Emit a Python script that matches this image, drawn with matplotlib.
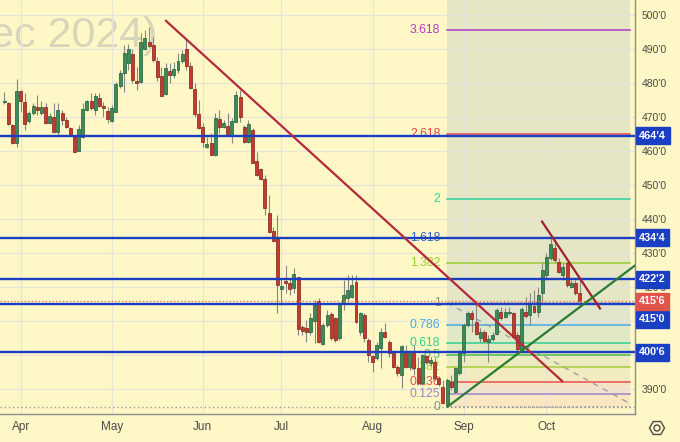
import matplotlib
matplotlib.use("Agg")
import matplotlib.pyplot as plt
import matplotlib.patches as mpatches
import matplotlib.transforms as mtransforms
import numpy as np
import pandas as pd

plt.rcParams['font.family'] = ['Liberation Sans', 'DejaVu Sans']

# daily bars, corn Dec 2024, 25 Mar - 11 Oct 2024 (exchange holidays removed)
HOLIDAYS = ["2024-03-29", "2024-05-27", "2024-06-19", "2024-07-04", "2024-09-02"]
dates = pd.bdate_range("2024-03-25", "2024-10-11")
dates = dates[~dates.isin(pd.to_datetime(HOLIDAYS))]

opens = [474.4, 474.2, 467.6, 462.3,
         477.6, 474.4, 468.9, 471.2, 473.0, 471.2, 473.0, 468.2, 470.1, 465.7,
         471.2, 469.1, 466.8, 464.1, 460.1, 464.1, 472.1, 474.7, 472.1, 475.6,
         473.2, 471.9, 468.8, 471.6, 479.2, 482.9, 485.8, 488.5, 480.6, 480.2,
         489.9, 492.1, 491.2, 486.6, 482.1, 476.8, 483.6, 482.4, 483.8, 486.6,
         490.1, 485.1, 478.1, 470.8, 467.1, 461.3, 462.3, 458.8, 469.4, 467.0,
         467.4, 464.7, 468.6, 475.8, 467.0, 462.7, 466.2, 457.1, 454.6, 451.7,
         441.7, 436.6, 434.0, 419.3, 421.8, 421.1, 419.6, 422.9, 408.3, 408.0,
         406.9, 410.1, 416.0, 403.2, 408.8, 412.1, 410.8, 404.9, 415.2, 416.7,
         417.2, 421.6, 406.9, 411.8, 404.4, 399.7, 399.0, 402.0, 406.9, 403.9,
         400.7, 396.6, 394.1, 400.7, 396.6, 400.7, 396.1, 391.7, 399.7, 397.6,
         398.0, 393.1, 390.7, 385.3, 392.1, 389.2, 394.6, 400.7, 408.8, 412.4,
         409.8, 404.9, 406.9, 403.8, 404.6, 406.2, 412.7, 411.3, 412.3, 412.3,
         405.9, 401.5, 412.7, 411.8, 414.4, 412.7, 418.1, 423.5, 428.4, 431.4,
         427.4, 423.5, 427.0, 420.1, 421.1, 418.1]
highs = [477.4, 474.4, 467.9, 481.2,
         478.0, 477.1, 471.8, 474.1, 476.5, 474.7, 474.1, 471.2, 474.1, 474.1,
         472.1, 470.0, 467.1, 464.4, 467.6, 474.1, 475.0, 477.1, 477.1, 477.1,
         474.4, 472.9, 473.5, 480.3, 483.8, 491.2, 491.5, 489.9, 484.8, 494.6,
         495.6, 496.6, 493.6, 487.7, 484.8, 485.8, 485.8, 486.3, 488.7, 489.7,
         492.9, 486.3, 479.9, 475.0, 468.1, 464.2, 465.2, 471.1, 472.1, 469.1,
         471.1, 469.7, 477.5, 477.9, 467.6, 469.1, 466.7, 459.8, 454.9, 452.9,
         447.1, 437.7, 441.2, 422.6, 426.5, 422.6, 425.5, 423.0, 408.8, 410.3,
         412.3, 416.2, 416.7, 409.3, 413.2, 412.7, 411.3, 415.7, 422.1, 423.5,
         423.5, 423.5, 412.7, 412.3, 404.9, 400.0, 403.9, 407.9, 409.3, 404.4,
         401.5, 397.1, 403.0, 402.9, 401.5, 402.9, 399.5, 400.3, 400.0, 399.4,
         399.1, 393.8, 392.6, 393.2, 394.1, 396.6, 401.5, 409.4, 412.9, 413.2,
         415.7, 407.9, 407.4, 405.9, 406.8, 413.7, 414.2, 413.8, 414.2, 412.6,
         406.9, 414.0, 417.1, 418.1, 419.1, 420.1, 427.4, 429.9, 434.8, 432.9,
         428.5, 427.1, 427.4, 422.1, 422.1, 422.4]
lows = [473.8, 467.6, 462.0, 461.2,
        471.5, 466.2, 468.2, 470.6, 470.6, 470.6, 467.9, 467.9, 465.3, 464.7,
        467.6, 466.8, 464.4, 459.7, 460.0, 463.8, 471.8, 472.1, 470.6, 472.9,
        470.0, 468.2, 468.5, 471.5, 478.5, 477.4, 483.8, 479.9, 477.9, 479.9,
        489.7, 490.7, 486.3, 480.7, 476.2, 476.5, 479.9, 481.4, 482.9, 485.8,
        483.8, 478.1, 470.1, 466.4, 461.3, 460.9, 458.8, 458.5, 465.2, 466.8,
        464.7, 462.4, 468.5, 468.6, 462.3, 462.4, 456.4, 452.6, 451.5, 441.2,
        435.8, 433.3, 412.3, 414.7, 418.1, 417.6, 418.1, 405.9, 405.9, 403.9,
        405.9, 403.4, 403.4, 402.9, 408.3, 404.4, 403.9, 404.5, 413.2, 415.2,
        416.7, 409.3, 405.9, 403.9, 398.0, 395.1, 398.5, 396.1, 404.9, 399.5,
        396.1, 393.8, 390.3, 396.1, 395.6, 394.1, 391.2, 391.2, 397.4, 396.8,
        392.6, 390.9, 385.6, 384.7, 389.7, 388.7, 394.1, 398.0, 408.2, 406.9,
        405.9, 403.9, 403.8, 398.0, 404.1, 405.9, 410.3, 410.9, 411.8, 405.0,
        401.2, 401.0, 410.9, 408.8, 412.4, 411.1, 415.7, 422.1, 427.9, 427.4,
        424.1, 422.1, 420.1, 419.7, 417.6, 415.3]
closes = [474.7, 467.9, 462.3, 477.7,
          474.7, 467.9, 471.3, 473.2, 472.1, 473.0, 468.3, 470.4, 465.7, 472.1,
          469.1, 467.1, 464.7, 459.8, 466.5, 472.3, 474.7, 472.6, 476.3, 473.3,
          472.6, 469.4, 472.7, 479.7, 482.9, 488.7, 489.9, 480.9, 479.9, 492.1,
          493.1, 490.9, 486.8, 481.7, 476.3, 484.3, 482.4, 484.0, 486.6, 488.4,
          485.1, 478.4, 470.8, 466.7, 462.7, 462.1, 458.9, 469.6, 467.0, 468.3,
          465.0, 468.9, 476.5, 470.1, 462.7, 467.9, 456.6, 452.9, 451.7, 443.1,
          436.3, 433.6, 420.6, 420.3, 421.1, 419.3, 423.8, 407.6, 407.1, 406.9,
          410.8, 414.7, 403.9, 408.8, 411.8, 404.9, 404.4, 415.2, 417.6, 419.1,
          420.6, 409.8, 412.3, 404.9, 400.0, 398.0, 402.9, 406.9, 405.2, 400.5,
          396.6, 394.6, 402.6, 396.6, 400.5, 396.1, 391.7, 400.0, 398.0, 398.6,
          393.1, 391.5, 385.8, 392.6, 390.7, 396.1, 400.7, 408.8, 412.3, 410.5,
          406.2, 406.9, 404.2, 404.6, 405.9, 413.2, 410.8, 412.7, 412.7, 405.4,
          401.7, 413.4, 411.5, 415.2, 412.7, 417.6, 425.0, 428.9, 432.6, 427.9,
          424.5, 425.8, 420.6, 421.1, 418.1, 415.75]

# horizontal support/resistance levels and their axis labels
h_levels = [464.5, 434.5, 422.25, 415.0, 400.75]
h_labels = ["464'4", "434'4", "422'2", "415'0", "400'6"]
last_price, last_label = 415.75, "415'6"

# price scale ticks; 400 and 410 sit under the level badges
price_ticks = [390, 400, 410, 420, 430, 440, 450, 460, 470, 480, 490, 500]
hidden_ticks = [400, 410]

# fibonacci extension: anchor low / high and bar range (bar index)
fib_low, fib_high = 384.7, 415.35
fib_x0, fib_x1 = 107, 151.2
fib_levels = [0, 0.125, 0.236, 0.382, 0.5, 0.618, 0.786, 1, 1.382, 1.618, 2, 2.618, 3.618]

# trend lines (bar index, price)
down_big_x, down_big_y = [38.9, 135.0], [498.5, 392.1]
down_small_x, down_small_y = [129.8, 144.1], [439.5, 413.4]
up_x, up_y = [106.9, 154.0], [384.6, 427.8]
fib_diag_x, fib_diag_y = [107, 151.5], [415.35, 385.5]

BG = "#fff8c6"
BLUE = "#1a3fc4"
FIB_COLORS = ["#8a8d96", "#9a85d0", "#e8514f", "#a5cf3a", "#4fbf4f", "#2fd08f", "#4aa9e8",
              "#8a8d96", "#9acd32", "#3560c8", "#2ed3a2", "#e8424f", "#b03cc8"]
BAND_COLORS = ["#fbe6c2", "#f5e3c8", "#f3ebc0", "#ebebbf", "#e4eac0", "#e1e8c6", "#e1e5cc"]

fig = plt.figure(figsize=(6.8, 4.42), dpi=100, facecolor=BG)
ax = fig.add_axes([0, 28 / 442, 635 / 680, 414 / 442], facecolor=BG)
ylo, yhi = 382.65, 504.41
ax.set_xlim(-1.0, 152.4)
ax.set_ylim(ylo, yhi)

x = np.arange(len(closes))
o, h, l, c = map(np.array, (opens, highs, lows, closes))
up = c >= o

# fib shading
levels_px = [fib_low + f * (fib_high - fib_low) for f in fib_levels]
for k, col in enumerate(BAND_COLORS):
    ax.fill_between([fib_x0, fib_x1], levels_px[k], levels_px[k + 1], color=col, lw=0, zorder=0.3)
ax.fill_between([fib_x0, fib_x1], levels_px[7], yhi, color="#e5e6c4", lw=0, zorder=0.3)

# watermark (left part runs off the chart, as in the source)
ax.text(-0.016, 0.886, "ec 2024)", transform=ax.transAxes, fontsize=31, color="#d9d5bb",
        ha="left", va="baseline", zorder=0.4)

# grid
ax.set_yticks(price_ticks)
month_pos = [i for i in range(1, len(dates)) if dates[i].month != dates[i - 1].month]
ax.set_xticks(month_pos)
ax.set_xticklabels([dates[i].strftime("%b") for i in month_pos])
ax.grid(True, color="#e4e4dc", lw=0.9, zorder=0.5)
ax.set_axisbelow(True)

# fib levels
for f, p, col in zip(fib_levels, levels_px, FIB_COLORS):
    ls = ":" if f in (0, 1) else "-"
    ax.plot([fib_x0, fib_x1], [p, p], color=col, lw=1.1, ls=ls, zorder=1)
    ax.text(fib_x0 - 1.6, p, f"{f:g}", color=col, fontsize=8.8, ha="right", va="center", zorder=1.5)
ax.axhline(fib_low, color="#9a9a9a", lw=1.0, ls=(0, (1, 2)), zorder=1)
ax.plot(fib_diag_x, fib_diag_y, color="#a0a0a0", lw=1.0, ls=(0, (4, 4)), zorder=1.2)

# candles
ax.vlines(x, l, h, color="#858585", lw=0.8, zorder=2)
body_lo = np.minimum(o, c)
body_h = np.maximum(np.abs(c - o), 0.3)
ax.bar(x[up], body_h[up], bottom=body_lo[up], width=0.72, color="#3c8c5a",
       edgecolor="#1f5a36", lw=0.5, zorder=3)
ax.bar(x[~up], body_h[~up], bottom=body_lo[~up], width=0.72, color="#c8392d",
       edgecolor="#7d1f17", lw=0.5, zorder=3)

# horizontal levels + current price
for p in h_levels:
    ax.axhline(p, color=BLUE, lw=1.7, zorder=4)
ax.axhline(last_price, color="#ef7a5e", lw=1.0, ls=(0, (1, 1.5)), zorder=4.5)

# trend lines
ax.plot(down_big_x, down_big_y, color="#b5283a", lw=1.6, zorder=5, solid_capstyle="butt")
ax.plot(down_small_x, down_small_y, color="#a0202e", lw=1.6, zorder=5, solid_capstyle="butt")
ax.plot(up_x, up_y, color="#2a7a34", lw=1.6, zorder=5, solid_capstyle="butt")

# axes styling
for s in ("top", "left"):
    ax.spines[s].set_visible(False)
for s in ("right", "bottom"):
    ax.spines[s].set_color("#8c8c8c")
    ax.spines[s].set_linewidth(1.0)
ax.yaxis.tick_right()
ax.yaxis.set_major_formatter(
    lambda v, pos: "" if int(round(v)) in hidden_ticks else f"{int(round(v))}'0")
ax.tick_params(axis="y", length=0, pad=5, labelsize=7.5, labelcolor="#4a4a4a")
ax.tick_params(axis="x", length=0, pad=5, labelsize=8.5, labelcolor="#4a4a4a")


def badge(price, text, color, dy=0):
    tr = mtransforms.offset_copy(ax.get_yaxis_transform(), fig=fig, y=dy, units="points")
    ax.text(1.0065, price, text, transform=tr, ha="left", va="center", fontsize=7.8,
            fontweight="bold", color="white", clip_on=False, zorder=10,
            bbox=dict(boxstyle="square,pad=0.32", fc=color, ec=color))


for p, t in zip(h_levels, h_labels):
    badge(p, t, BLUE, dy=-11 if p == 415.0 else 0)
badge(last_price, last_label, "#e0544a")

# settings icon bottom right
fig.add_artist(mpatches.RegularPolygon((6.57, 0.14), 6, radius=0.075, orientation=np.pi / 6,
                                       fill=False, ec="#4a4a4a", lw=1.0,
                                       transform=fig.dpi_scale_trans))
fig.add_artist(mpatches.Circle((6.57, 0.14), 0.03, fill=False, ec="#4a4a4a", lw=1.0,
                               transform=fig.dpi_scale_trans))

fig.savefig("out.png", dpi=100, facecolor=BG)
